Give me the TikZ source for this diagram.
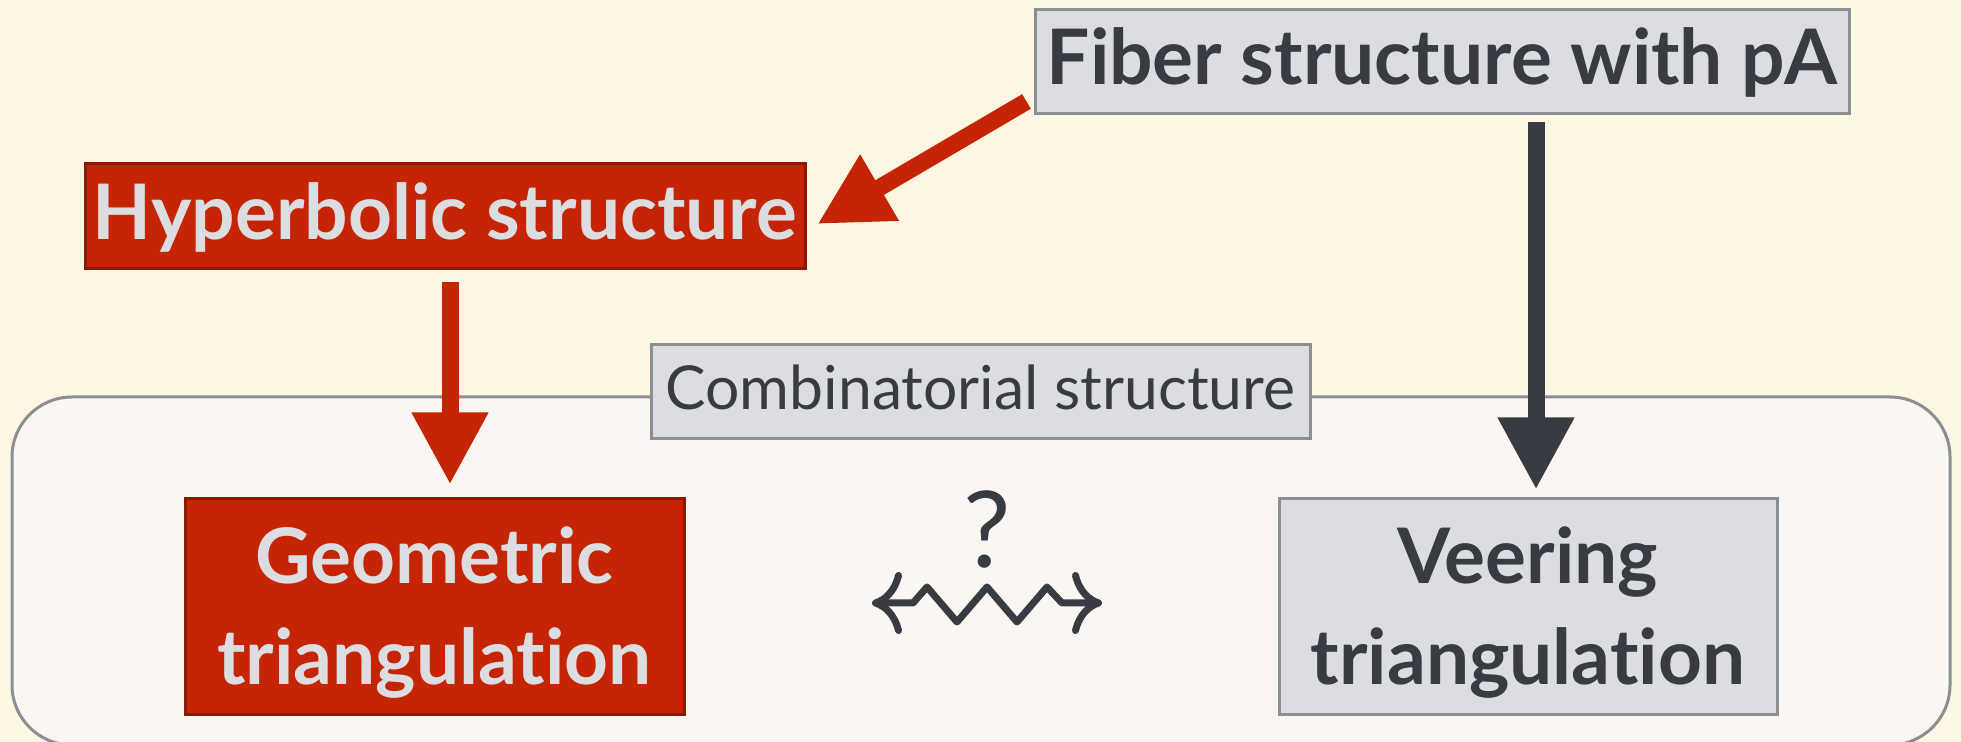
\documentclass[tikz,border=0pt]{standalone}
\usepackage{fontspec}
\setmainfont{Lato}[Ligatures=NoCommon]
\usetikzlibrary{arrows.meta,calc}
\definecolor{bg}{HTML}{FDF6E3}
\definecolor{panelc}{HTML}{FAF7F3}
\definecolor{redfill}{HTML}{C52405}
\definecolor{redline}{HTML}{8A1A08}
\definecolor{grayfill}{HTML}{DCDDE0}
\definecolor{grayline}{HTML}{8B8E93}
\definecolor{darkc}{HTML}{383B41}
\definecolor{lightc}{HTML}{DCDDE0}
\begin{document}
\begin{tikzpicture}[x=0.5pt,y=-0.5pt,
  redbox/.style={draw=redline,fill=redfill,line width=1.5pt,text=lightc,inner sep=0pt},
  graybox/.style={draw=grayline,fill=grayfill,line width=1.5pt,text=darkc,inner sep=0pt},
  bigfont/.style={font=\bfseries\fontsize{38.3pt}{50.5pt}\selectfont},
  smallfont/.style={font=\fontsize{30.3pt}{35pt}\selectfont},
  onelineA/.style={text height=30pt,text depth=7pt},
  fatarrow/.style={line width=8.5pt,-{Triangle[length=36pt,width=36pt]}},
  squig/.style={draw=darkc,line width=3.5pt,line join=round,
    {Computer Modern Rightarrow[length=15pt,width=31pt]}-{Computer Modern Rightarrow[length=15pt,width=31pt]}}
]
\fill[bg] (0,0) rectangle (1961,742);
\useasboundingbox (0,0) rectangle (1961,742);

\node[draw=grayline,fill=panelc,line width=1.5pt,rounded corners=30pt,
  minimum width=969pt,minimum height=174pt,inner sep=0pt] (panel) at (981,571) {};

\node[graybox,bigfont,onelineA,minimum width=407pt,minimum height=52pt] (fib) at (1442,62) {Fiber structure with pA};
\node[redbox,bigfont,onelineA,minimum width=360pt,minimum height=52.5pt] (hyp) at (445,216.5) {Hyperbolic structure};
\node[graybox,smallfont,text height=25pt,text depth=7pt,minimum width=329.5pt,minimum height=47pt] (comb) at (980.5,392) {Combinatorial structure};
\node[redbox,bigfont,align=center,minimum width=249.5pt,minimum height=108pt] (geo) at (434.5,607) {\rule{0pt}{34pt}Geometric\\triangulation};
\node[graybox,bigfont,align=center,minimum width=249pt,minimum height=108pt] (veer) at (1528,607) {\rule{0pt}{34pt}Veering\\triangulation};

\node[text=darkc,font=\fontsize{53pt}{56pt}\selectfont,inner sep=0pt] (q) at (987,530) {?};

\draw[fatarrow,draw=redfill,fill=redfill] ($(fib.south west)+(-7,-14)$) -- ($(hyp.east)+(11,7.5)$);
\coordinate (a2s) at ($(hyp.south)+(5,12)$);
\draw[fatarrow,draw=redfill,fill=redfill] (a2s) -- ($(geo.north -| a2s)+(0,-13)$);
\coordinate (a3e) at ($(veer.north)+(8,-8)$);
\draw[fatarrow,draw=darkc,fill=darkc] ($(fib.south -| a3e)+(0,7)$) -- (a3e);

\coordinate (sqL) at (872,603);
\coordinate (sqR) at (1102,603);
\draw[squig] (sqL) -- ++(41,0) -- ++(14,-16) -- ++(30,35) -- ++(30,-35) -- ++(30,35) -- ++(30,-35) -- ++(15,16) -- (sqR);
\end{tikzpicture}
\end{document}
